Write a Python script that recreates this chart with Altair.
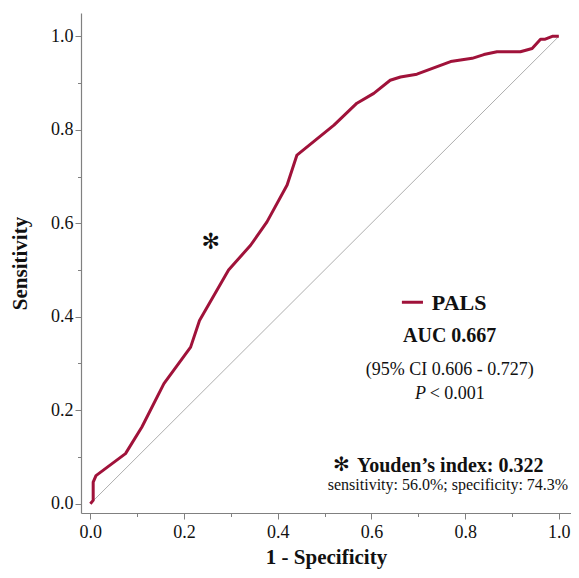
import altair as alt
import pandas as pd

# ROC curve points (1 - specificity, sensitivity)
fpr = [0.0, 0.006, 0.006, 0.012, 0.075, 0.110, 0.157, 0.214, 0.233, 0.295, 0.342,
       0.377, 0.420, 0.441, 0.520, 0.569, 0.605, 0.640, 0.662, 0.697, 0.769,
       0.815, 0.840, 0.868, 0.918, 0.943, 0.961, 0.971, 0.986, 1.0]
tpr = [0.0, 0.007, 0.046, 0.060, 0.107, 0.164, 0.257, 0.335, 0.392, 0.500, 0.553,
       0.603, 0.682, 0.746, 0.810, 0.857, 0.878, 0.906, 0.913, 0.919, 0.946,
       0.953, 0.961, 0.967, 0.967, 0.974, 0.994, 0.994, 1.0, 1.0]

ref_x = [0.0, 1.0]
ref_y = [0.0, 1.0]

youden_x = [0.257]
youden_y = [0.560]

tick_values = [round(i * 0.1, 1) for i in range(11)]

FONT = "Liberation Serif"
RED = "#A0123A"
GREY = "#808080"

curve = pd.DataFrame({"x": fpr, "y": tpr, "i": list(range(len(fpr)))})
ref = pd.DataFrame({"x": ref_x, "y": ref_y})
star = pd.DataFrame({"x": youden_x, "y": youden_y})

xscale = alt.Scale(domain=[-0.02, 1.026], nice=False, zero=False)
yscale = alt.Scale(domain=[-0.02, 1.05], nice=False, zero=False)

major_test = "round(datum.value*10) % 2 === 0"
common_axis = dict(
    values=tick_values,
    labelExpr=f"{major_test} ? format(datum.value, '.1f') : ''",
    tickSize={"condition": {"test": major_test, "value": 6}, "value": 3.5},
    domainColor=GREY, tickColor=GREY, tickWidth=1, domainWidth=1.2,
    grid=False, labelFont=FONT, labelFontSize=18, labelColor="#111",
    labelOverlap=False, labelFlush=False,
    titleFont=FONT, titleFontSize=21, titleFontWeight="bold", titleColor="#111",
)

xaxis = alt.Axis(title="1 - Specificity", labelPadding=4, titleY=50,
                 titleBaseline="alphabetic", **common_axis)
yaxis = alt.Axis(title="Sensitivity", labelPadding=2, titlePadding=20, **common_axis)

diag = alt.Chart(ref).mark_line(color="#999999", strokeWidth=0.8).encode(
    x=alt.X("x:Q", scale=xscale, axis=xaxis),
    y=alt.Y("y:Q", scale=yscale, axis=yaxis),
)

roc = alt.Chart(curve).mark_line(color=RED, strokeWidth=3, strokeJoin="round").encode(
    x="x:Q", y="y:Q", order="i:Q"
)

star_mark = alt.Chart(star).mark_text(
    text="✻", font="DejaVu Sans", fontSize=22, color="#111", baseline="middle"
).encode(x="x:Q", y="y:Q")

# legend / annotation block
leg_line = alt.Chart(pd.DataFrame({"x": [0.665], "x2": [0.710], "y": [0.431]})).mark_rule(
    color=RED, strokeWidth=3
).encode(x="x:Q", x2="x2:Q", y="y:Q")


def label(text, x, y, size, weight="normal", style="normal", align="left",
          font=FONT, baseline="alphabetic"):
    return alt.Chart(pd.DataFrame({"x": [x], "y": [y]})).mark_text(
        text=text, font=font, fontSize=size, fontWeight=weight, fontStyle=style,
        align=align, baseline=baseline, color="#111"
    ).encode(x="x:Q", y="y:Q")


texts = [
    label("PALS", 0.729, 0.414, 22, weight="bold"),
    label("AUC 0.667", 0.767, 0.346, 20, weight="bold", align="center"),
    label("(95% CI 0.606 - 0.727)", 0.767, 0.2745, 18, align="center"),
    label("P", 0.693, 0.2247, 18, style="italic"),
    label("< 0.001", 0.842, 0.2247, 18, align="right"),
    label("✻", 0.536, 0.082, 20, font="DejaVu Sans", align="center", baseline="middle"),
    label("Youden’s index: 0.322", 0.569, 0.0676, 20, weight="bold"),
    label("sensitivity: 56.0%; specificity: 74.3%", 1.020, 0.0285, 16, align="right"),
]

chart = alt.layer(diag, roc, star_mark, leg_line, *texts).properties(
    width=490, height=500,
    autosize=alt.AutoSizeParams(type="none"),
    padding={"left": 73, "top": 5, "right": 0, "bottom": 57},
).configure_view(stroke="transparent")

chart.save("out.html", embed_options={"renderer": "svg", "actions": False})
